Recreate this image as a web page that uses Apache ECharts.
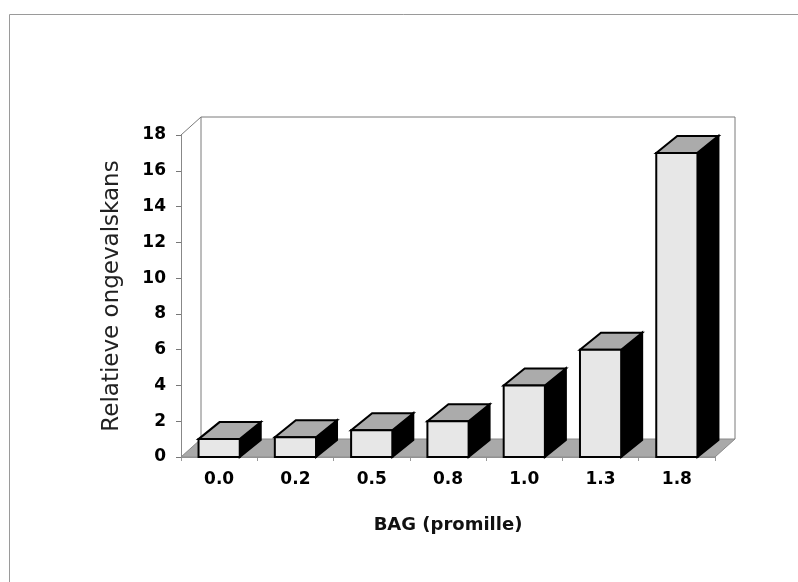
<!DOCTYPE html>
<html>
<head>
<meta charset="utf-8">
<script src="https://cdn.jsdelivr.net/npm/echarts@6/dist/echarts.min.js"></script>
<style>
  html, body { margin: 0; padding: 0; background: #fff; }
  #chart { width: 798px; height: 582px; }
</style>
</head>
<body>
<div id="chart"></div>
<script>
// Blood alcohol concentration categories (promille) and relative accident risk
const categories = ['0.0', '0.2', '0.5', '0.8', '1.0', '1.3', '1.8'];
const riskValues = [1.0, 1.1, 1.5, 2.0, 4.0, 6.0, 17.0];
const yMin = 0;
const yMax = 18;
const yStep = 2;

// Oblique offset used for the 3D look (floor, back wall, bar depth)
const DEPTH_X = 20;
const DEPTH_Y = -18;
const BAR_DX = 21;
const BAR_DY = -17;
const BAR_RATIO = 0.54;

const chart = echarts.init(document.getElementById('chart'), null, { renderer: 'canvas' });

// Floor parallelogram and back wall outline, drawn behind the bars
function renderBackdrop(params, api) {
  const cs = params.coordSys;
  const x0 = cs.x, x1 = cs.x + cs.width;
  const yb = cs.y + cs.height, yt = cs.y;
  const wallStyle = { stroke: '#7a7a7a', lineWidth: 1, fill: null };
  return {
    type: 'group',
    silent: true,
    children: [
      {
        type: 'polygon',
        shape: { points: [[x0, yb], [x1, yb], [x1 + DEPTH_X, yb + DEPTH_Y], [x0 + DEPTH_X, yb + DEPTH_Y]] },
        style: { fill: '#a9a9a9', stroke: '#8a8a8a', lineWidth: 1 }
      },
      {
        type: 'polyline',
        shape: { points: [[x0 + DEPTH_X, yb + DEPTH_Y], [x0 + DEPTH_X, yt + DEPTH_Y], [x1 + DEPTH_X, yt + DEPTH_Y], [x1 + DEPTH_X, yb + DEPTH_Y]] },
        style: wallStyle
      },
      {
        type: 'line',
        shape: { x1: x0, y1: yt, x2: x0 + DEPTH_X, y2: yt + DEPTH_Y },
        style: wallStyle
      }
    ]
  };
}

// One box per category: side (black), top (mid grey), front (light grey)
function renderBar(params, api) {
  const i = api.value(0);
  const v = api.value(1);
  const top = api.coord([i, v]);
  const base = api.coord([i, 0]);
  const w = api.size([1, 0])[0] * BAR_RATIO;
  const xl = top[0] - w / 2, xr = top[0] + w / 2;
  const yt = top[1], yb = base[1];
  const edge = { stroke: '#000', lineWidth: 2, lineJoin: 'miter' };
  return {
    type: 'group',
    children: [
      {
        type: 'polygon',
        shape: { points: [[xr, yb], [xr + BAR_DX, yb + BAR_DY], [xr + BAR_DX, yt + BAR_DY], [xr, yt]] },
        style: Object.assign({ fill: '#000' }, edge)
      },
      {
        type: 'polygon',
        shape: { points: [[xl, yt], [xr, yt], [xr + BAR_DX, yt + BAR_DY], [xl + BAR_DX, yt + BAR_DY]] },
        style: Object.assign({ fill: '#ababab' }, edge)
      },
      {
        type: 'rect',
        shape: { x: xl, y: yt, width: w, height: yb - yt },
        style: Object.assign({ fill: '#e7e7e7' }, edge)
      }
    ]
  };
}

const tickFont = {
  fontFamily: 'DejaVu Sans',
  fontWeight: 'bold',
  fontSize: 17,
  color: '#000'
};

chart.setOption({
  animation: false,
  backgroundColor: '#fff',
  graphic: [
    {
      type: 'polyline',
      silent: true,
      shape: { points: [[9.5, 582], [9.5, 14.5], [798, 14.5]] },
      style: { stroke: '#9a9a9a', lineWidth: 1, fill: null }
    }
  ],
  grid: {
    left: 181,
    right: 83,
    top: 135,
    bottom: 125,
    containLabel: false
  },
  xAxis: {
    type: 'category',
    data: categories,
    boundaryGap: true,
    name: 'BAG (promille)',
    nameLocation: 'middle',
    nameGap: 59,
    nameTextStyle: {
      fontFamily: 'DejaVu Sans',
      fontWeight: 'bold',
      fontSize: 18,
      color: '#111',
      verticalAlign: 'top'
    },
    axisLine: { show: true, lineStyle: { color: '#999', width: 1 } },
    axisTick: { show: true, length: 4, alignWithLabel: false, lineStyle: { color: '#999' } },
    axisLabel: Object.assign({ margin: 14 }, tickFont),
    splitLine: { show: false }
  },
  yAxis: {
    type: 'value',
    min: yMin,
    max: yMax,
    interval: yStep,
    name: 'Relatieve ongevalskans',
    nameLocation: 'middle',
    nameGap: 57,
    nameTextStyle: {
      fontFamily: 'DejaVu Sans',
      fontSize: 23,
      color: '#222'
    },
    axisLine: { show: true, lineStyle: { color: '#888', width: 1 } },
    axisTick: { show: true, length: 5, lineStyle: { color: '#777' } },
    axisLabel: Object.assign({ margin: 15 }, tickFont),
    splitLine: { show: false }
  },
  series: [
    {
      type: 'custom',
      name: 'backdrop',
      renderItem: renderBackdrop,
      data: [[0, 0]],
      encode: { x: 0, y: 1 },
      z: 1,
      silent: true
    },
    {
      type: 'custom',
      name: 'Relatieve ongevalskans',
      renderItem: renderBar,
      data: riskValues.map((v, i) => [i, v]),
      encode: { x: 0, y: 1 },
      z: 2
    }
  ]
});
</script>
</body>
</html>
